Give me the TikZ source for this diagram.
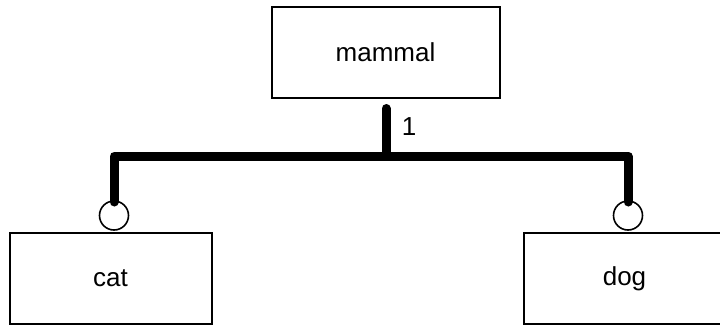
\documentclass[tikz,border=0pt]{standalone}
\usepackage{fontspec}
\setmainfont{Liberation Sans}
\begin{document}
\begin{tikzpicture}[x=1pt,y=1pt,
  box/.style={draw, line width=2pt, fill=white, minimum width=228pt, minimum height=91pt,
    inner sep=0pt, font=\fontsize{26}{30}\selectfont},
  joint/.style={draw, circle, line width=1.6pt, minimum size=29pt, inner sep=0pt},
  link/.style={line width=9pt, line cap=round, line join=round},
  lbl/.style={font=\fontsize{26}{30}\selectfont, inner sep=0pt}]
\useasboundingbox (0,0) rectangle (720,-324);
\clip (0,0) rectangle (720,-324);

% class boxes
\node[box] (mammal) at (385.5,-52.5) {mammal};
\node[box, minimum width=202pt] (cat) at (110.5,-278.5) {cat};
\node[box, minimum width=202pt] (dog) at (624.5,-278.5) {dog};

% attachment circles on the subclasses
\node[joint] (ccat) at (114,-215.5) {};
\node[joint] (cdog) at (628,-215.5) {};

% tree connector
\coordinate (top) at (386,-108.5);
\coordinate (junc) at (386,-156);
\coordinate (ecat) at (114,-202);
\coordinate (edog) at (628,-202);
\draw[link] (top) -- (junc);
\draw[link] (ecat) |- (junc) -| (edog);

\node[lbl] (one) at (409,-127) {1};
\end{tikzpicture}
\end{document}
